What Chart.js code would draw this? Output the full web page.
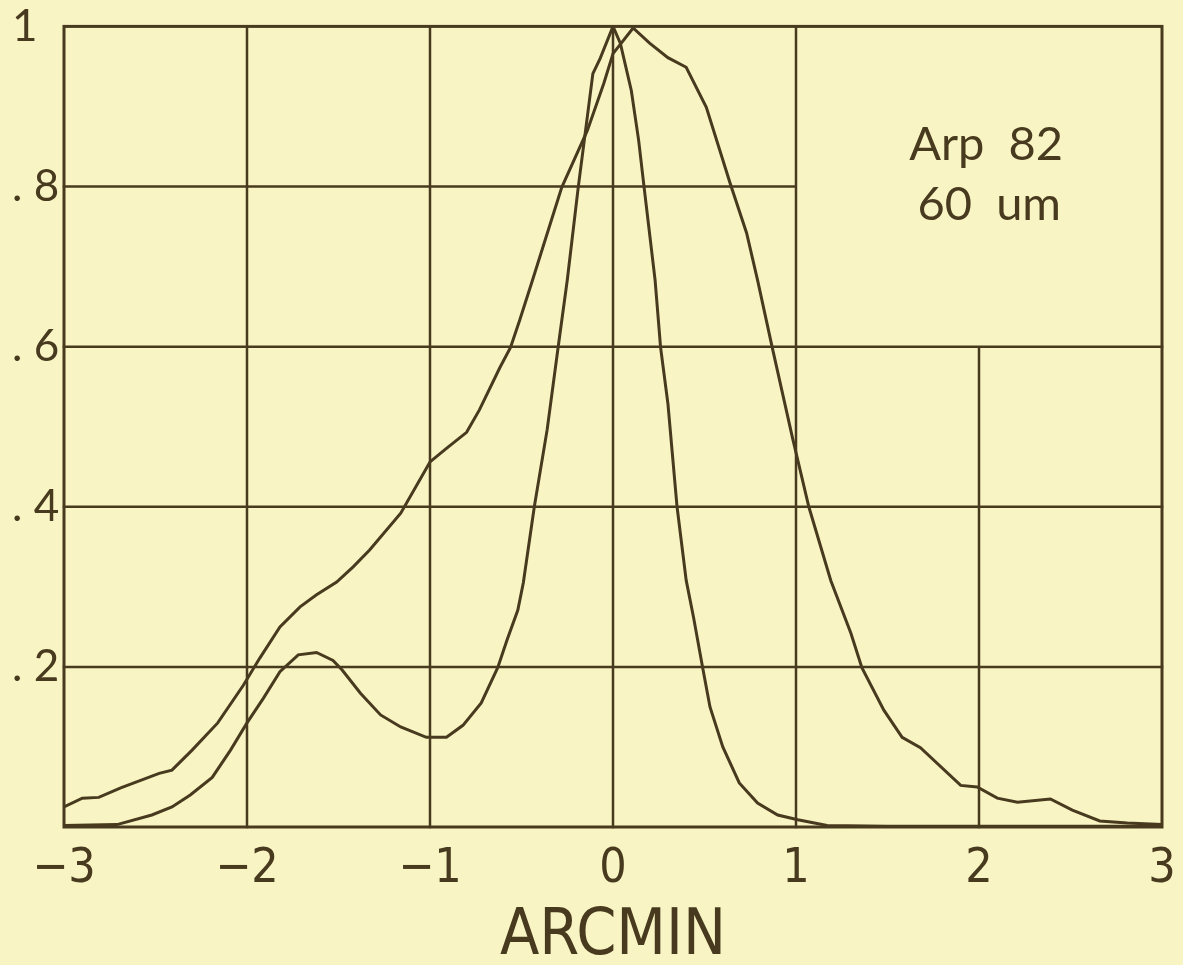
<!DOCTYPE html>
<html>
<head>
<meta charset="utf-8">
<script src="https://cdn.jsdelivr.net/npm/chart.js@4/dist/chart.umd.min.js"></script>
<style>
  html, body { margin: 0; padding: 0; background: #f8f4c3; }
  #wrap { width: 1183px; height: 965px; }
</style>
</head>
<body>
<div id="wrap"><canvas id="myChart" width="1183" height="965"></canvas></div>
<script>
// beam profile data (x in arcmin, y normalised)
const narrowX = [-3.0, -2.71, -2.52, -2.41, -2.31, -2.19, -2.09, -2.0, -1.91, -1.82, -1.72, -1.62, -1.53, -1.48, -1.38, -1.27, -1.16, -1.02, -0.91, -0.82, -0.72, -0.63, -0.58, -0.52, -0.49, -0.43, -0.36, -0.30, -0.25, -0.19, -0.11, -0.07, 0.0, 0.04, 0.10, 0.14, 0.17, 0.23, 0.26, 0.30, 0.35, 0.40, 0.44, 0.49, 0.53, 0.60, 0.69, 0.79, 0.90, 1.01, 1.17, 1.5, 2.0, 2.5, 3.0];
const narrowY = [0.002, 0.003, 0.015, 0.025, 0.04, 0.062, 0.096, 0.13, 0.161, 0.194, 0.215, 0.218, 0.208, 0.196, 0.167, 0.14, 0.125, 0.112, 0.112, 0.127, 0.155, 0.199, 0.233, 0.271, 0.305, 0.40, 0.496, 0.599, 0.683, 0.799, 0.941, 0.96, 1.0, 0.979, 0.92, 0.858, 0.799, 0.683, 0.599, 0.529, 0.40, 0.308, 0.262, 0.199, 0.15, 0.10, 0.055, 0.03, 0.015, 0.009, 0.002, 0.001, 0.001, 0.001, 0.001];

const broadX = [-3.0, -2.90, -2.81, -2.69, -2.48, -2.41, -2.30, -2.16, -2.02, -1.93, -1.82, -1.71, -1.62, -1.51, -1.42, -1.33, -1.16, -1.0, -0.91, -0.80, -0.73, -0.62, -0.56, -0.51, -0.44, -0.28, -0.14, -0.05, 0.0, 0.11, 0.20, 0.30, 0.40, 0.51, 0.64, 0.73, 0.79, 0.87, 0.98, 1.07, 1.19, 1.30, 1.36, 1.48, 1.58, 1.68, 1.90, 1.99, 2.10, 2.21, 2.39, 2.51, 2.66, 2.81, 3.0];
const broadY = [0.025, 0.036, 0.037, 0.049, 0.067, 0.071, 0.096, 0.13, 0.177, 0.211, 0.25, 0.275, 0.29, 0.306, 0.325, 0.346, 0.392, 0.456, 0.473, 0.493, 0.521, 0.573, 0.599, 0.633, 0.683, 0.799, 0.87, 0.929, 0.966, 0.998, 0.979, 0.961, 0.949, 0.899, 0.804, 0.742, 0.683, 0.599, 0.487, 0.40, 0.308, 0.242, 0.199, 0.146, 0.112, 0.099, 0.052, 0.05, 0.036, 0.031, 0.035, 0.021, 0.0075, 0.005, 0.003];

const xTicks = [-3, -2, -1, 0, 1, 2, 3];
const xTickLabels = ['\u22123', '\u22122', '\u22121', '0', '1', '2', '3'];
const yTicks = [0, 0.2, 0.4, 0.6, 0.8, 1];
const yTickLabels = ['', '. 2', '. 4', '. 6', '. 8', '1'];
const noteLines = ['Arp  82', '60  um'];

const ink = 'rgb(72, 58, 30)';

function pairs(xs, ys) {
  return xs.map((x, i) => ({ x: x, y: ys[i] }));
}

// grid with the open box in the upper right, plus the frame
const gridPlugin = {
  id: 'plotGrid',
  beforeDatasetsDraw(chart) {
    const { ctx, chartArea: a, scales: { x, y } } = chart;
    ctx.save();
    ctx.strokeStyle = ink;
    ctx.lineWidth = 2.5;
    ctx.lineCap = 'square';
    ctx.beginPath();
    [-2, -1, 0, 1].forEach(v => {
      const px = x.getPixelForValue(v);
      ctx.moveTo(px, a.top); ctx.lineTo(px, a.bottom);
    });
    let px2 = x.getPixelForValue(2);
    ctx.moveTo(px2, y.getPixelForValue(0.6)); ctx.lineTo(px2, a.bottom);
    [0.2, 0.4, 0.6].forEach(v => {
      const py = y.getPixelForValue(v);
      ctx.moveTo(a.left, py); ctx.lineTo(a.right, py);
    });
    let py8 = y.getPixelForValue(0.8);
    ctx.moveTo(a.left, py8); ctx.lineTo(x.getPixelForValue(1), py8);
    ctx.stroke();
    ctx.lineWidth = 3;
    ctx.strokeRect(a.left, a.top, a.right - a.left, a.bottom - a.top);
    ctx.restore();
  },
  afterDraw(chart) {
    const { ctx } = chart;
    ctx.save();
    ctx.fillStyle = ink;
    ctx.font = '47px Lato, "Open Sans", sans-serif';
    ctx.textAlign = 'right';
    ctx.textBaseline = 'middle';
    ctx.fillText(noteLines[0], 1063, 145);
    ctx.fillText(noteLines[1], 1061, 205);
    ctx.restore();
  }
};

var ctx = document.getElementById('myChart').getContext('2d');
var myChart = new Chart(ctx, {
  type: 'scatter',
  data: {
    datasets: [{
      label: 'narrow',
      data: pairs(narrowX, narrowY),
      showLine: true,
      borderColor: ink,
      borderWidth: 3,
      pointRadius: 0,
      tension: 0,
      fill: false
    }, {
      label: 'broad',
      data: pairs(broadX, broadY),
      showLine: true,
      borderColor: ink,
      borderWidth: 3,
      pointRadius: 0,
      tension: 0,
      fill: false
    }]
  },
  options: {
    responsive: false,
    animation: false,
    layout: { padding: { top: 26, right: 21, left: 12, bottom: 0 } },
    plugins: { legend: { display: false }, tooltip: { enabled: false } },
    scales: {
      x: {
        type: 'linear',
        min: -3,
        max: 3,
        afterBuildTicks: s => { s.ticks = xTicks.map(v => ({ value: v })); },
        afterFit: s => { s.height = 138; s.paddingLeft = 0; s.paddingRight = 0; },
        grid: { display: false, drawTicks: false },
        border: { display: false },
        ticks: {
          color: ink,
          padding: 14,
          maxRotation: 0,
          autoSkip: false,
          font: { family: '"Liberation Sans Narrow", "DejaVu Sans Condensed", sans-serif', size: 48 },
          callback: (v) => xTickLabels[xTicks.indexOf(v)]
        },
        title: {
          display: true,
          text: 'ARCMIN',
          color: ink,
          padding: { top: 0, bottom: 0 },
          font: { family: '"Liberation Sans Narrow", "DejaVu Sans Condensed", sans-serif', size: 64, lineHeight: 0.85 }
        }
      },
      y: {
        type: 'linear',
        min: 0,
        max: 1,
        afterBuildTicks: s => { s.ticks = yTicks.map(v => ({ value: v })); },
        afterFit: s => { s.width = 52; },
        grid: { display: false, drawTicks: false },
        border: { display: false },
        ticks: {
          color: ink,
          padding: 0,
          crossAlign: 'far',
          autoSkip: false,
          font: { family: 'Lato, "Open Sans", sans-serif', size: 44 },
          callback: (v) => yTickLabels[yTicks.indexOf(v)]
        }
      }
    }
  },
  plugins: [gridPlugin]
});
</script>
</body>
</html>
